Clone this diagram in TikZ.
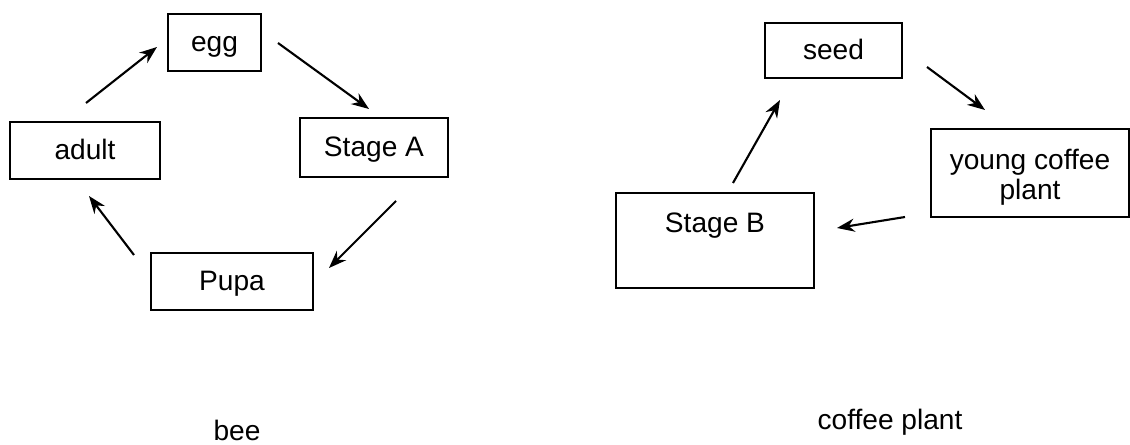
\documentclass[tikz,border=0pt]{standalone}
\usepackage{fontspec}
\setmainfont{Liberation Sans}
\usetikzlibrary{arrows.meta}
\begin{document}
\begin{tikzpicture}[x=0.02cm,y=-0.02cm,>={Stealth[length=10pt,width=7.5pt]},
  every node/.style={font=\fontsize{16}{17}\selectfont},
  stagebox/.style={draw,line width=1.2pt,inner sep=0pt,align=center},
  wordbox/.style={stagebox,text height=11.5pt,text depth=0.8pt},
  lifearrow/.style={->,line width=1.2pt}]
  \useasboundingbox (0,0) rectangle (1130,445);

  % Bee life cycle
  \node[wordbox,minimum width=1.86cm,minimum height=1.14cm] (egg)    at (214.5,42.5)  {egg};
  \node[wordbox,minimum width=2.96cm,minimum height=1.18cm] (stageA) at (374,147.5)   {Stage A};
  \node[wordbox,minimum width=3.24cm,minimum height=1.14cm] (pupa)   at (232,281.5)   {Pupa};
  \node[wordbox,minimum width=3.00cm,minimum height=1.14cm] (adult)  at (85,150.5)    {adult};

  % Coffee plant life cycle
  \node[wordbox,minimum width=2.74cm,minimum height=1.10cm] (seed)   at (833.5,50.5)  {seed};
  \node[stagebox,minimum width=3.96cm,minimum height=1.76cm] (young) at (1030,173)
        {\rule{0pt}{0.57cm}young coffee\\plant};
  \node[stagebox,minimum width=3.96cm,minimum height=1.90cm,
        text depth=0.7cm] (stageB) at (715,240.5) {Stage B};

  % Arrow ends (t = tail, h = head)
  \coordinate (b1t) at (86,103);   \coordinate (b1h) at (157,47);
  \coordinate (b2t) at (278,43);   \coordinate (b2h) at (369,109);
  \coordinate (b3t) at (396,201);  \coordinate (b3h) at (329,268);
  \coordinate (b4t) at (134,255);  \coordinate (b4h) at (89,196);
  \coordinate (c1t) at (927,67);   \coordinate (c1h) at (985,110);
  \coordinate (c2t) at (905,217);  \coordinate (c2h) at (837,228);
  \coordinate (c3t) at (733,183);  \coordinate (c3h) at (780,100);

  \foreach \t/\h in {b1t/b1h,b2t/b2h,b3t/b3h,b4t/b4h,c1t/c1h,c2t/c2h,c3t/c3h}
     \draw[lifearrow] (\t) -- (\h);

  % Captions
  \node (beeLbl)    at (237,430) {bee};
  \node (coffeeLbl) at (890,422) {coffee plant};
\end{tikzpicture}
\end{document}
